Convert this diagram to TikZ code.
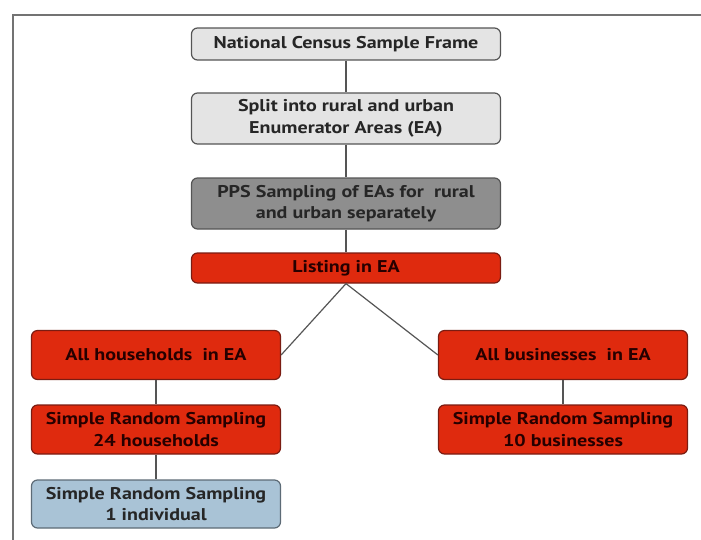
\documentclass[tikz,border=0pt]{standalone}
\usepackage{fontspec}
\setmainfont{PT Sans}[FakeStretch=1.18]
\usepackage{xcolor}
\usepackage{tikz}

\definecolor{lightgrey}{HTML}{E4E4E4}
\definecolor{midgrey}{HTML}{8E8E8E}
\definecolor{boxred}{HTML}{DF2A0E}
\definecolor{darkred}{HTML}{7A1C12}
\definecolor{paleblue}{HTML}{A9C3D6}
\definecolor{edgegrey}{HTML}{555555}

\begin{document}
\begin{tikzpicture}[
  x=1pt,y=-1pt,
  box/.style={draw=edgegrey,line width=1.2pt,rounded corners=6pt,align=center,inner sep=2pt,
    font=\fontsize{17}{21.5}\selectfont\bfseries,text=black!85},
  widebox/.style={box,minimum width=309pt},
  sidebox/.style={box,minimum width=249pt,minimum height=49pt},
  redbox/.style={sidebox,fill=boxred,draw=darkred,text=black!85!red},
  link/.style={draw=edgegrey,line width=1.2pt}
]
\useasboundingbox (0,0) rectangle (701,539);
\draw[draw=black!55,line width=1.6pt] (13,560) -- (13,15) -- (720,15);

\node[widebox,fill=lightgrey,minimum height=32pt] (census) at (346,44) {National Census Sample Frame};
\node[widebox,fill=lightgrey,minimum height=51pt] (split) at (346,118.5) {Split into rural and urban\\Enumerator Areas (EA)};
\node[widebox,fill=midgrey,minimum height=51pt] (pps) at (346,203.5) {PPS Sampling of EAs for\ \ rural\\and urban separately};
\node[widebox,fill=boxred,draw=darkred,text=black!85!red,minimum height=30pt] (listing) at (346,268) {Listing in EA};
\node[redbox] (hh) at (156,355) {All households\ \ in EA};
\node[redbox] (biz) at (563,355) {All businesses\ \ in EA};
\node[redbox] (srshh) at (156,429.5) {Simple Random Sampling\\24 households};
\node[redbox] (srsbiz) at (563,429.5) {Simple Random Sampling\\10 businesses};
\node[sidebox,fill=paleblue,draw=black!45!paleblue,minimum height=48pt] (srsind) at (156,504) {Simple Random Sampling\\1 individual};

\draw[link] (census) -- (split);
\draw[link] (split) -- (pps);
\draw[link] (pps) -- (listing);
\draw[link] (listing.south) -- (hh.east);
\draw[link] (listing.south) -- (biz.west);
\draw[link] (hh) -- (srshh);
\draw[link] (srshh) -- (srsind);
\draw[link] (biz) -- (srsbiz);

\end{tikzpicture}
\end{document}
